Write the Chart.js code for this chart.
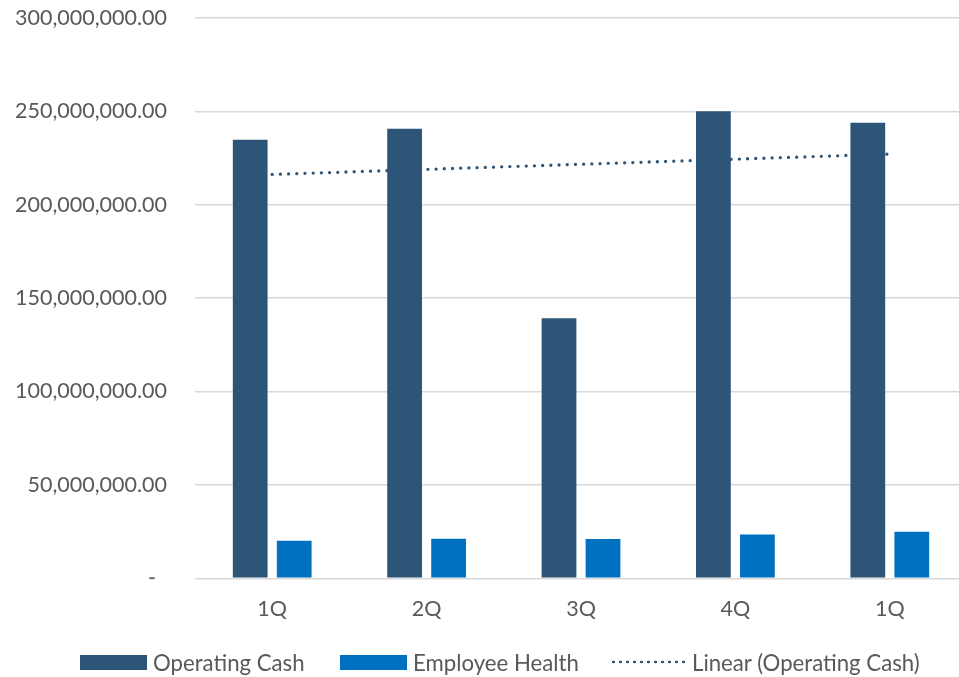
<!DOCTYPE html>
<html>
<head>
<meta charset="utf-8">
<script src="https://cdn.jsdelivr.net/npm/chart.js@4.4.1/dist/chart.umd.min.js"></script>
<style>
    body { margin: 0; overflow: hidden; background: #fff; }
    #wrap { position: relative; width: 967px; height: 677px; overflow: hidden; }
    #myChart { position: absolute; left: 0; top: -23px; }
    #legend { position: absolute; left: 0; top: 650px; width: 967px; height: 24px;
        font-family: Lato, sans-serif; font-size: 22.2px; color: #595959; }
    .item { position: absolute; top: 0; height: 24px; display: flex; align-items: center; white-space: nowrap; }
    .swatch { width: 67px; height: 15px; margin-right: 6px; }
    .dots { width: 75px; height: 4px; margin-right: 7px;
        background-image: radial-gradient(circle, #2C5577 1.2px, transparent 1.6px);
        background-size: 7px 4px; }
</style>
</head>
<body>
<div id="wrap">
    <canvas id="myChart" width="967" height="700"></canvas>
    <div id="legend"></div>
</div>
<script>
const quarters = ['1Q', '2Q', '3Q', '4Q', '1Q'];
const operatingCash = [234800000, 240600000, 139200000, 250000000, 243900000];
const employeeHealth = [20100000, 21200000, 21000000, 23500000, 24900000];
// linear trend of operating cash, only the two end points are kept
const trendOperatingCash = [216200000, null, null, null, 227100000];
const yTicks = [0, 50000000, 100000000, 150000000, 200000000, 250000000, 300000000];

const darkBlue = '#2C5577';
const brightBlue = '#0070C0';
const textGray = '#595959';
const tickFont = { family: 'Lato', size: 21.5 };

const canvas = document.getElementById('myChart');

const data = {
    labels: quarters,
    datasets: [
        {
            type: 'bar',
            label: 'Operating Cash',
            data: operatingCash,
            backgroundColor: darkBlue,
            order: 1,
            categoryPercentage: 0.57,
            barPercentage: 0.79
        },
        {
            type: 'bar',
            label: 'Employee Health',
            data: employeeHealth,
            backgroundColor: brightBlue,
            order: 1,
            categoryPercentage: 0.57,
            barPercentage: 0.79
        },
        {
            type: 'line',
            label: 'Linear (Operating Cash)',
            data: trendOperatingCash,
            spanGaps: true,
            borderColor: darkBlue,
            borderWidth: 3.3,
            borderDash: [0, 8.2],
            borderCapStyle: 'round',
            pointRadius: 0,
            fill: false,
            order: 0
        }
    ]
};

const config = {
    data,
    options: {
        responsive: false,
        devicePixelRatio: 1,
        animation: false,
        layout: { padding: { top: 17, left: 0, right: 0, bottom: 0 } },
        plugins: {
            legend: { display: false },
            tooltip: { enabled: false }
        },
        scales: {
            x: {
                grid: { display: false },
                border: { display: false },
                ticks: { color: textGray, font: tickFont, padding: 10 },
                afterFit: (scale) => { scale.height = 98.7; }
            },
            y: {
                min: 0,
                max: 300000000,
                afterBuildTicks: (scale) => {
                    scale.ticks = yTicks.map(v => ({ value: v }));
                },
                grid: { color: '#D9D9D9', lineWidth: 1.5, drawTicks: false },
                border: { display: false },
                ticks: {
                    color: textGray,
                    font: tickFont,
                    padding: 28,
                    callback: (value) => value === 0 ? '-  ' :
                        value.toLocaleString('en-US', { minimumFractionDigits: 2, maximumFractionDigits: 2 })
                },
                afterFit: (scale) => { scale.width = 195; }
            }
        }
    }
};

const myChart = new Chart(canvas, config);

// legend row under the chart
const legendItems = [
    { text: 'Operating Cash', color: darkBlue, left: 80 },
    { text: 'Employee Health', color: brightBlue, left: 340 },
    { text: 'Linear (Operating Cash)', dotted: true, left: 610 }
];
const legend = document.getElementById('legend');
legendItems.forEach(item => {
    const el = document.createElement('div');
    el.className = 'item';
    el.style.left = item.left + 'px';
    const mark = document.createElement('span');
    if (item.dotted) {
        mark.className = 'dots';
    } else {
        mark.className = 'swatch';
        mark.style.background = item.color;
    }
    const label = document.createElement('span');
    label.textContent = item.text;
    el.appendChild(mark);
    el.appendChild(label);
    legend.appendChild(el);
});
</script>
</body>
</html>
